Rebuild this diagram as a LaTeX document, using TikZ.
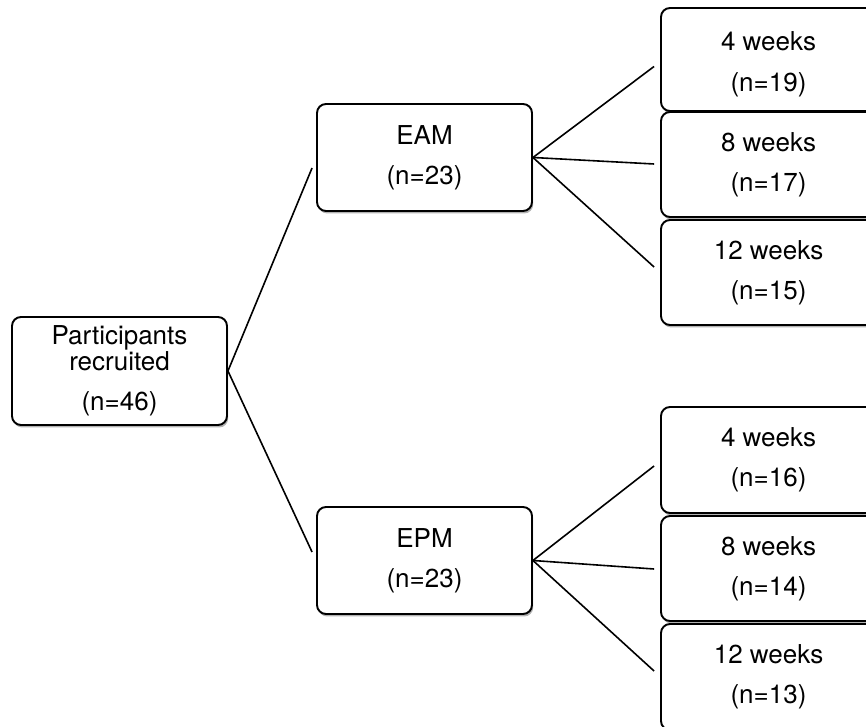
\documentclass[tikz,border=0pt]{standalone}
\usepackage{fontspec}
\setmainfont{TeX Gyre Heros}
\usetikzlibrary{shadows,calc}
\begin{document}
\begin{tikzpicture}[x=1pt,y=1pt,
  box/.style={draw=black, line width=1.9pt, rounded corners=9pt, fill=white,
    align=center, inner sep=0pt, font=\fontsize{26}{25.5}\selectfont,
    drop shadow={shadow xshift=1.2pt, shadow yshift=-2.5pt, opacity=0.3, fill=black}},
  link/.style={draw=black, line width=1.6pt}]
\useasboundingbox (0,0) rectangle (866,727);
% root
\node[box, minimum width=215, minimum height=108] (P) at (119.5,356)
  {Participants\\recruited\\[14.5pt](n=46)};
% arms
\node[box, minimum width=215, minimum height=107] (EAM) at (424.5,569.5) {EAM\\[14.5pt](n=23)};
\node[box, minimum width=215, minimum height=107] (EPM) at (424.5,166.5) {EPM\\[14.5pt](n=23)};
% EAM follow-ups
\node[box, minimum width=215, minimum height=103] (T1) at (768.5,667.5) {\raisebox{-12pt}[0pt][0pt]{\begin{tabular}{@{}c@{}}4 weeks\\[14.5pt](n=19)\end{tabular}}};
\node[box, minimum width=215, minimum height=105] (T2) at (768.5,562.5) {8 weeks\\[14.5pt](n=17)};
\node[box, minimum width=215, minimum height=105] (T3) at (768.5,454.5) {12 weeks\\[14.5pt](n=15)};
% EPM follow-ups
\node[box, minimum width=215, minimum height=106] (B1) at (768.5,267) {4 weeks\\[14.5pt](n=16)};
\node[box, minimum width=215, minimum height=105] (B2) at (768.5,158.5) {8 weeks\\[14.5pt](n=14)};
\node[box, minimum width=215, minimum height=106] (B3) at (768.5,50) {12 weeks\\[14.5pt](n=13)};
% connector ends
\coordinate (eEAM) at ($(EAM.west)+(-4,-10.5)$);
\coordinate (eEPM) at ($(EPM.west)+(-4,8.5)$);
\coordinate (eT1) at ($(T1.west)+(-6,-7)$);
\coordinate (eT2) at ($(T2.west)+(-6,0.5)$);
\coordinate (eT3) at ($(T3.west)+(-6,5.5)$);
\coordinate (eB1) at ($(B1.west)+(-6,-6)$);
\coordinate (eB2) at ($(B2.west)+(-6,-0.5)$);
\coordinate (eB3) at ($(B3.west)+(-6,6)$);
% connectors
\draw[link] (P.east) -- (eEAM);
\draw[link] (P.east) -- (eEPM);
\draw[link] (EAM.east) -- (eT1);
\draw[link] (EAM.east) -- (eT2);
\draw[link] (EAM.east) -- (eT3);
\draw[link] (EPM.east) -- (eB1);
\draw[link] (EPM.east) -- (eB2);
\draw[link] (EPM.east) -- (eB3);
\end{tikzpicture}
\end{document}
